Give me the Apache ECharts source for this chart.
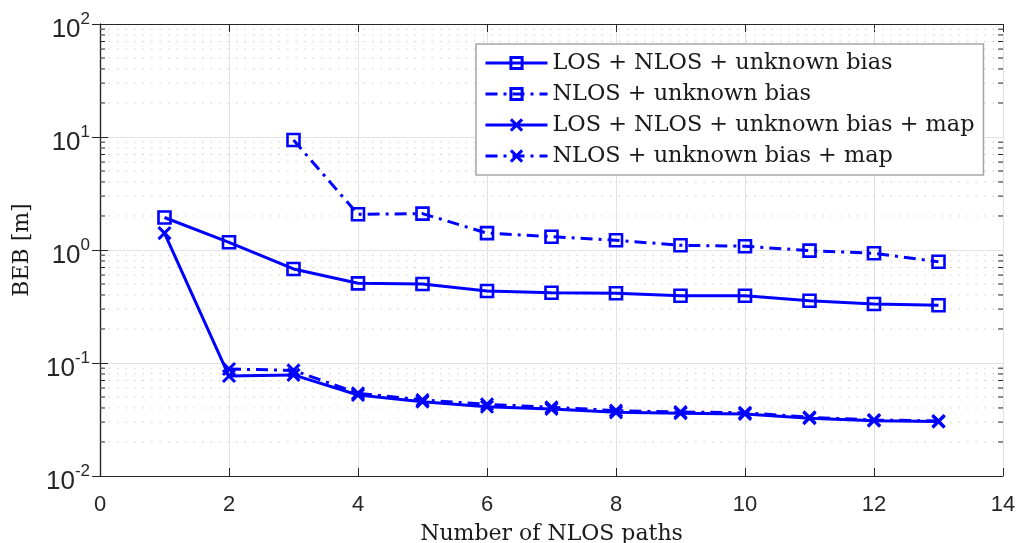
<!DOCTYPE html>
<html>
<head>
<meta charset="utf-8">
<script src="https://cdn.jsdelivr.net/npm/echarts@6/dist/echarts.min.js"></script>
<style>
  html, body { margin: 0; padding: 0; background: #fff; }
  #chart { width: 1017px; height: 543px; }
</style>
</head>
<body>
<div id="chart"></div>
<script>
// Number of NLOS paths
const paths = [1, 2, 3, 4, 5, 6, 7, 8, 9, 10, 11, 12, 13];

// BEB [m] for each estimator (null = not defined for that number of paths)
const losNlosBias    = [1.94, 1.17, 0.68, 0.507, 0.50, 0.434, 0.419, 0.414, 0.394, 0.394, 0.356, 0.333, 0.324];
const nlosBias       = [null, null, 9.4, 2.07, 2.10, 1.41, 1.31, 1.22, 1.10, 1.08, 0.987, 0.935, 0.787];
const losNlosBiasMap = [1.41, 0.0767, 0.0785, 0.0521, 0.0455, 0.0410, 0.0392, 0.0366, 0.0359, 0.0354, 0.0324, 0.0309, 0.0303];
const nlosBiasMap    = [null, 0.0885, 0.0860, 0.0540, 0.0471, 0.0431, 0.0406, 0.0379, 0.0368, 0.0363, 0.0331, 0.0313, 0.0307];

const seriesNames = [
  'LOS + NLOS + unknown bias',
  'NLOS + unknown bias',
  'LOS + NLOS + unknown bias + map',
  'NLOS + unknown bias + map'
];

// minor log-scale grid values (2..9 within each decade)
const decades = [0.01, 0.1, 1, 10];
const minorSteps = [2, 3, 4, 5, 6, 7, 8, 9];

const BLUE = '#0000ff';
const AXIS = '#262626';
const SANS = 'Liberation Sans, Arial, Helvetica, sans-serif';
const SERIF = 'DejaVu Serif, serif';
const X_MARK = 'path://M0,0L10,10M10,0L0,10';

function pairs(ys) {
  return paths.map((x, i) => [x, ys[i]]).filter(p => p[1] != null);
}

const minorValues = [];
decades.forEach(d => minorSteps.forEach(k => minorValues.push(+(d * k).toPrecision(3))));

function lineSeries(name, ys, symbol, dashed) {
  const isRect = symbol === 'rect';
  return {
    name: name,
    type: 'line',
    data: pairs(ys),
    symbol: symbol,
    symbolSize: 12,
    showSymbol: true,
    z: 5,
    lineStyle: { color: BLUE, width: 3, type: dashed ? [12, 6, 3, 6] : 'solid', cap: 'butt' },
    itemStyle: { color: 'rgba(0,0,0,0)', borderColor: BLUE, borderWidth: isRect ? 2.6 : 3 },
    emphasis: { disabled: true }
  };
}

const chart = echarts.init(document.getElementById('chart'), null, { renderer: 'canvas' });

const yLabelRich = {
  b: { fontSize: 26, fontFamily: SANS, color: AXIS, padding: [12, 0, 0, 0] },
  s: { fontSize: 17, fontFamily: SANS, color: AXIS, padding: [0, 0, 10, 0] }
};

chart.setOption({
  animation: false,
  backgroundColor: '#fff',
  grid: { left: 100, right: 14, top: 24, bottom: 67, containLabel: false, outerBoundsMode: 'none' },
  legend: {
    data: seriesNames,
    orient: 'vertical',
    left: 476,
    top: 44,
    padding: [8, 9, 8, 8],
    itemGap: 9,
    itemWidth: 62,
    itemHeight: 14,
    backgroundColor: '#fff',
    borderColor: '#a6a6a6',
    borderWidth: 1.5,
    borderRadius: 0,
    lineStyle: { width: 3 },
    itemStyle: { borderWidth: 3 },
    textStyle: { fontFamily: SERIF, fontSize: 22.4, color: '#1a1a1a' },
    selectedMode: false
  },
  xAxis: [
    {
      type: 'value', min: 0, max: 14, interval: 2,
      name: 'Number of NLOS paths', nameLocation: 'middle', nameGap: 47,
      nameTextStyle: { fontFamily: SERIF, fontSize: 22, color: '#1a1a1a' },
      axisLine: { show: true, lineStyle: { color: AXIS, width: 1.2 } },
      axisTick: { show: true, inside: true, length: 8, lineStyle: { color: AXIS } },
      axisLabel: { fontFamily: SANS, fontSize: 22, color: AXIS, margin: 18 },
      splitLine: { show: true, lineStyle: { color: '#e2e2e2', width: 1 } }
    },
    {
      type: 'value', min: 0, max: 14, interval: 2, position: 'top',
      axisLine: { show: true, lineStyle: { color: AXIS, width: 1.2 } },
      axisTick: { show: true, inside: true, length: 8, lineStyle: { color: AXIS } },
      axisLabel: { show: false },
      splitLine: { show: false }
    }
  ],
  yAxis: [
    {
      type: 'log', logBase: 10, min: 0.01, max: 100, splitNumber: 4,
      name: 'BEB [m]', nameLocation: 'middle', nameGap: 67,
      nameTextStyle: { fontFamily: SERIF, fontSize: 22, color: '#1a1a1a' },
      axisLine: { show: true, lineStyle: { color: AXIS, width: 1.2 } },
      axisTick: { show: true, inside: true, length: 8, lineStyle: { color: AXIS } },
      axisLabel: {
        margin: 10,
        formatter: v => '{b|10}{s|' + Math.round(Math.log10(v)) + '}',
        rich: yLabelRich
      },
      splitLine: { show: true, lineStyle: { color: '#e2e2e2', width: 1 } }
    },
    {
      type: 'log', logBase: 10, min: 0.01, max: 100, splitNumber: 4, position: 'right',
      axisLine: { show: true, lineStyle: { color: AXIS, width: 1.2 } },
      axisTick: { show: true, inside: true, length: 8, lineStyle: { color: AXIS } },
      axisLabel: { show: false },
      splitLine: { show: false }
    }
  ],
  series: [
    {
      // dotted minor grid lines plus minor ticks on both vertical axes
      name: 'minor',
      type: 'custom',
      silent: true,
      z: 1,
      data: minorValues.map(v => [0, v]),
      renderItem: function (params, api) {
        const y = api.coord([0, api.value(1)])[1];
        const cs = params.coordSys;
        const tick = { stroke: AXIS, lineWidth: 1 };
        return {
          type: 'group',
          children: [
            { type: 'line', shape: { x1: cs.x, y1: y, x2: cs.x + cs.width, y2: y },
              style: { stroke: '#cccccc', lineWidth: 1, lineDash: [1.5, 7] } },
            { type: 'line', shape: { x1: cs.x, y1: y, x2: cs.x + 5, y2: y }, style: tick },
            { type: 'line', shape: { x1: cs.x + cs.width - 5, y1: y, x2: cs.x + cs.width, y2: y }, style: tick }
          ]
        };
      }
    },
    lineSeries(seriesNames[0], losNlosBias, 'rect', false),
    lineSeries(seriesNames[1], nlosBias, 'rect', true),
    lineSeries(seriesNames[2], losNlosBiasMap, X_MARK, false),
    lineSeries(seriesNames[3], nlosBiasMap, X_MARK, true)
  ]
});
</script>
</body>
</html>
